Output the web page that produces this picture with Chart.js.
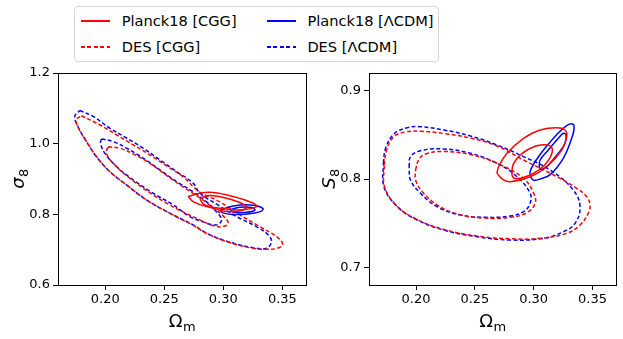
<!DOCTYPE html>
<html>
<head>
<meta charset="utf-8">
<script src="https://cdn.jsdelivr.net/npm/chart.js@4.4.1/dist/chart.umd.min.js"></script>
<style>
  body { margin: 0; width: 623px; height: 339px; position: relative; background: #fff; overflow: hidden; font-family: "DejaVu Sans", sans-serif; }
  canvas { position: absolute; top: 60px; }
  #legend { position: absolute; left: 74px; top: 6px; width: 363px; height: 54px; border: 1px solid #d5d5d5; border-radius: 4px; background: #fff; z-index: 2; font-size: 14.6px; color: #000; }
  .item { position: absolute; height: 18px; line-height: 18px; white-space: nowrap; }
  .swatch { position: absolute; width: 29px; height: 1.6px; top: 8px; }
  .txt { position: absolute; left: 40.7px; top: 0; }
</style>
</head>
<body>
<canvas id="left" width="311" height="279" style="left:0"></canvas>
<canvas id="right" width="312" height="279" style="left:311px"></canvas>
<div id="legend"></div>
<script>
// tick labels
const omTicks = [0.20, 0.25, 0.30, 0.35];
const sigTicks = [0.6, 0.8, 1.0, 1.2];
const s8Ticks = [0.7, 0.8, 0.9];

// ---- sigma8 vs Omega_m (left) : [Omega_m, sigma8] ----
const sigPlanckCGG_in = [[0.2801,0.8457],[0.2886,0.8531],[0.3027,0.8457],[0.3197,0.8225],[0.3140,0.8098],[0.3027,0.8078],[0.2914,0.8174],[0.2829,0.8296]];
const sigPlanckCGG_out = [[0.2702,0.8503],[0.2801,0.8599],[0.2914,0.8616],[0.3083,0.8503],[0.3253,0.8316],[0.3281,0.8219],[0.3140,0.8126],[0.2970,0.8174],[0.2858,0.8219],[0.2744,0.8361]];
const sigPlanckLCDM_in = [[0.3055,0.8126],[0.3140,0.8202],[0.3239,0.8191],[0.3267,0.8120],[0.3197,0.8060],[0.3083,0.8069]];
const sigPlanckLCDM_out = [[0.2970,0.8112],[0.3083,0.8239],[0.3253,0.8259],[0.3337,0.8146],[0.3253,0.8032],[0.3083,0.7993],[0.2998,0.8041]];
const sigDesCGG_in = [[0.2024,0.9911],[0.2123,0.9869],[0.2236,0.9713],[0.2377,0.9444],[0.2519,0.9104],[0.2659,0.8778],[0.2801,0.8466],[0.2914,0.8183],[0.2998,0.7956],[0.3041,0.7757],[0.2998,0.7653],[0.2914,0.7681],[0.2801,0.7842],[0.2519,0.8316],[0.2236,0.8948],[0.2066,0.9450],[0.2010,0.9733]];
const sigDesCGG_out = [[0.1798,1.0790],[0.1953,1.0535],[0.2095,1.0252],[0.2236,0.9968],[0.2377,0.9685],[0.2519,0.9373],[0.2659,0.9061],[0.2801,0.8630],[0.2970,0.8353],[0.3140,0.7984],[0.3309,0.7652],[0.3451,0.7369],[0.3502,0.7154],[0.3451,0.7035],[0.3366,0.7012],[0.3253,0.7040],[0.3140,0.7120],[0.2998,0.7261],[0.2858,0.7460],[0.2744,0.7686],[0.2547,0.8027],[0.2349,0.8409],[0.2180,0.8834],[0.2038,0.9211],[0.1925,0.9637],[0.1841,1.0062],[0.1771,1.0450],[0.1758,1.0677]];
const sigDesLCDM_in = [[0.1968,1.0130],[0.2066,1.0062],[0.2180,0.9875],[0.2320,0.9591],[0.2462,0.9260],[0.2603,0.8928],[0.2744,0.8636],[0.2858,0.8353],[0.2942,0.8069],[0.2985,0.7842],[0.2942,0.7701],[0.2829,0.7786],[0.2716,0.7936],[0.2575,0.8268],[0.2405,0.8599],[0.2236,0.8976],[0.2095,0.9353],[0.1996,0.9733],[0.1960,1.0016]];
const sigDesLCDM_out = [[0.1784,1.0940],[0.1897,1.0770],[0.2038,1.0440],[0.2180,1.0160],[0.2320,0.9875],[0.2462,0.9543],[0.2603,0.9211],[0.2744,0.8883],[0.2801,0.8599],[0.2953,0.8268],[0.3112,0.7936],[0.3281,0.7652],[0.3380,0.7417],[0.3408,0.7227],[0.3366,0.7040],[0.3281,0.7040],[0.3140,0.7134],[0.2998,0.7276],[0.2858,0.7465],[0.2744,0.7701],[0.2547,0.8032],[0.2349,0.8409],[0.2180,0.8834],[0.2038,0.9211],[0.1925,0.9637],[0.1841,1.0062],[0.1769,1.0487],[0.1742,1.0770]];

// ---- S8 vs Omega_m (right) : [Omega_m, S8] ----
const s8PlanckCGG_in = [[0.2815,0.8042],[0.2826,0.8166],[0.2903,0.8291],[0.3013,0.8370],[0.3098,0.8387],[0.3157,0.8347],[0.3131,0.8223],[0.3040,0.8098],[0.2919,0.8019],[0.2835,0.8008]];
const s8PlanckCGG_out = [[0.2688,0.8065],[0.2744,0.7989],[0.2801,0.7970],[0.2970,0.8026],[0.3112,0.8139],[0.3239,0.8328],[0.3281,0.8479],[0.3267,0.8555],[0.3197,0.8581],[0.3055,0.8555],[0.2914,0.8461],[0.2773,0.8291],[0.2702,0.8139]];
const s8PlanckLCDM_in = [[0.3047,0.8125],[0.3055,0.8215],[0.3125,0.8328],[0.3210,0.8461],[0.3253,0.8518],[0.3275,0.8498],[0.3267,0.8408],[0.3210,0.8291],[0.3125,0.8159],[0.3069,0.8108]];
const s8PlanckLCDM_out = [[0.2979,0.8009],[0.2970,0.8088],[0.3055,0.8277],[0.3197,0.8503],[0.3284,0.8608],[0.3335,0.8620],[0.3343,0.8562],[0.3324,0.8464],[0.3253,0.8237],[0.3140,0.8049],[0.3055,0.8000],[0.3004,0.7985]];
const s8DesCGG_in = [[0.1996,0.8102],[0.2021,0.8215],[0.2080,0.8283],[0.2236,0.8311],[0.2462,0.8277],[0.2688,0.8178],[0.2914,0.8008],[0.3000,0.7838],[0.3013,0.7725],[0.2942,0.7618],[0.2801,0.7566],[0.2575,0.7558],[0.2349,0.7604],[0.2180,0.7706],[0.2053,0.7856],[0.1996,0.7989]];
const s8DesCGG_out = [[0.1729,0.8159],[0.1750,0.8329],[0.1809,0.8476],[0.1911,0.8533],[0.2038,0.8540],[0.2236,0.8515],[0.2462,0.8464],[0.2688,0.8374],[0.2914,0.8215],[0.3197,0.8026],[0.3366,0.7895],[0.3451,0.7800],[0.3479,0.7706],[0.3464,0.7612],[0.3394,0.7479],[0.3281,0.7385],[0.3055,0.7328],[0.2801,0.7323],[0.2519,0.7354],[0.2236,0.7428],[0.2010,0.7541],[0.1841,0.7689],[0.1733,0.7909]];
const s8DesLCDM_in = [[0.1941,0.8136],[0.1953,0.8253],[0.2038,0.8320],[0.2236,0.8340],[0.2462,0.8291],[0.2688,0.8178],[0.2858,0.8026],[0.2970,0.7838],[0.2970,0.7725],[0.2914,0.7630],[0.2801,0.7581],[0.2603,0.7566],[0.2377,0.7592],[0.2180,0.7686],[0.2038,0.7838],[0.1953,0.7989]];
const s8DesLCDM_out = [[0.1722,0.8178],[0.1741,0.8348],[0.1812,0.8510],[0.1925,0.8581],[0.2038,0.8592],[0.2236,0.8555],[0.2462,0.8487],[0.2688,0.8385],[0.2914,0.8253],[0.3140,0.8102],[0.3337,0.7875],[0.3394,0.7686],[0.3352,0.7498],[0.3253,0.7403],[0.3083,0.7328],[0.2801,0.7309],[0.2519,0.7347],[0.2236,0.7422],[0.2010,0.7536],[0.1841,0.7686],[0.1727,0.7913]];

const RED = '#ff0000';
const BLUE = '#0000ff';
const DASH = [4, 2.4];

// legend
const legendItems = [
  { label: 'Planck18 [CGG]', color: RED, dashed: false, left: 6, top: 5 },
  { label: 'DES [CGG]', color: RED, dashed: true, left: 6, top: 31 },
  { label: 'Planck18 [\u039BCDM]', color: BLUE, dashed: false, left: 191.7, top: 5 },
  { label: 'DES [\u039BCDM]', color: BLUE, dashed: true, left: 191.7, top: 31 }
];
const legend = document.getElementById('legend');
legendItems.forEach(it => {
  const d = document.createElement('div');
  d.className = 'item';
  d.style.left = it.left + 'px';
  d.style.top = it.top + 'px';
  const sw = document.createElement('div');
  sw.className = 'swatch';
  sw.style.background = it.dashed
    ? 'repeating-linear-gradient(to right, ' + it.color + ' 0 4px, transparent 4px 6.4px)'
    : it.color;
  const t = document.createElement('span');
  t.className = 'txt';
  t.textContent = it.label;
  d.appendChild(sw);
  d.appendChild(t);
  legend.appendChild(d);
});

function closed(pts) {
  const out = pts.map(p => ({ x: p[0], y: p[1] }));
  out.push({ x: pts[0][0], y: pts[0][1] });
  return out;
}

function contour(pts, color, dashed) {
  return {
    data: closed(pts),
    showLine: true,
    borderColor: color,
    borderWidth: 1.5,
    borderDash: dashed ? DASH : [],
    pointRadius: 0,
    pointHoverRadius: 0,
    fill: false,
    tension: 0.4
  };
}

// frame around the plot area (matplotlib spines)
const frame = {
  id: 'frame',
  afterDraw(chart) {
    const a = chart.chartArea;
    const c = chart.ctx;
    c.save();
    c.strokeStyle = '#000';
    c.lineWidth = 1;
    c.strokeRect(Math.round(a.left) + 0.5, Math.round(a.top) + 0.5, Math.round(a.right - a.left), Math.round(a.bottom - a.top));
    c.restore();
  }
};

// axis titles with a real subscript, like mathtext
const axisTitles = {
  id: 'axisTitles',
  afterDraw(chart, args, opts) {
    const a = chart.chartArea;
    const c = chart.ctx;
    const mainFont = '18px "DejaVu Sans"';
    const subFont = '13px "DejaVu Sans"';
    function put(t, x, y) {
      c.font = (t.italic ? 'italic ' : '') + mainFont;
      const w1 = c.measureText(t.main).width;
      c.font = subFont;
      const w2 = c.measureText(t.sub).width;
      const x0 = x - (w1 + w2) / 2;
      c.font = (t.italic ? 'italic ' : '') + mainFont;
      c.fillText(t.main, x0, y);
      c.font = subFont;
      c.fillText(t.sub, x0 + w1 + 0.5, y + 4);
    }
    c.save();
    c.fillStyle = '#000';
    c.textBaseline = 'alphabetic';
    c.textAlign = 'left';
    put(opts.x, (a.left + a.right) / 2, a.bottom + 41.7);
    c.translate(a.left - 33.8, (a.top + a.bottom) / 2);
    c.rotate(-Math.PI / 2);
    put(opts.y, 0, 0);
    c.restore();
  }
};

function makeChart(id, datasets, yTicks, yMin, yMax, yTitle, padRight) {
  const tickFont = { family: 'DejaVu Sans', size: 13 };
  return new Chart(document.getElementById(id), {
    type: 'scatter',
    data: { datasets: datasets },
    options: {
      responsive: false,
      animation: false,
      devicePixelRatio: 1,
      layout: { padding: { top: 13, right: padRight, left: 0, bottom: 0 } },
      plugins: {
        legend: { display: false },
        tooltip: { enabled: false },
        axisTitles: { x: { main: '\u03A9', sub: 'm', italic: false }, y: yTitle }
      },
      scales: {
        x: {
          type: 'linear',
          min: 0.16,
          max: 0.37,
          afterBuildTicks: s => { s.ticks = omTicks.map(v => ({ value: v })); },
          afterFit: s => { s.height = 54; },
          ticks: { font: tickFont, color: '#000', padding: 2, maxRotation: 0, autoSkip: false, callback: v => v.toFixed(2) },
          grid: { drawOnChartArea: false, drawTicks: true, tickLength: 5, color: '#000' },
          border: { display: false }
        },
        y: {
          type: 'linear',
          min: yMin,
          max: yMax,
          afterBuildTicks: s => { s.ticks = yTicks.map(v => ({ value: v })); },
          afterFit: s => { s.width = 58; },
          ticks: { font: tickFont, color: '#000', padding: 3, autoSkip: false, callback: v => v.toFixed(1) },
          grid: { drawOnChartArea: false, drawTicks: true, tickLength: 5, color: '#000' },
          border: { display: false }
        }
      }
    },
    plugins: [frame, axisTitles]
  });
}

makeChart('left', [
  contour(sigPlanckCGG_in, RED, false),
  contour(sigPlanckCGG_out, RED, false),
  contour(sigPlanckLCDM_in, BLUE, false),
  contour(sigPlanckLCDM_out, BLUE, false),
  contour(sigDesCGG_in, RED, true),
  contour(sigDesCGG_out, RED, true),
  contour(sigDesLCDM_in, BLUE, true),
  contour(sigDesLCDM_out, BLUE, true)
], sigTicks, 0.6, 1.2, { main: '\u03C3', sub: '8', italic: true }, 5);

makeChart('right', [
  contour(s8PlanckCGG_in, RED, false),
  contour(s8PlanckCGG_out, RED, false),
  contour(s8PlanckLCDM_in, BLUE, false),
  contour(s8PlanckLCDM_out, BLUE, false),
  contour(s8DesCGG_in, RED, true),
  contour(s8DesCGG_out, RED, true),
  contour(s8DesLCDM_in, BLUE, true),
  contour(s8DesLCDM_out, BLUE, true)
], s8Ticks, 0.68, 0.92, { main: 'S', sub: '8', italic: true }, 7);
</script>
</body>
</html>
